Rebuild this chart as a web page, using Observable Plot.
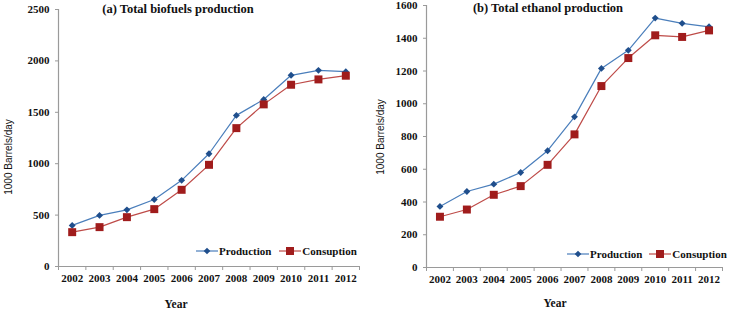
<!DOCTYPE html>
<html>
<head>
<meta charset="utf-8">
<script src="https://cdn.jsdelivr.net/npm/d3@7"></script>
<script src="https://cdn.jsdelivr.net/npm/@observablehq/plot@0.6"></script>
<style>
  html, body { margin: 0; padding: 0; background: #fff; }
  #wrap { position: relative; width: 729px; height: 309px; overflow: hidden; background: #fff; }
  .panel { position: absolute; top: 0; }
  .txt { position: absolute; font-family: "Liberation Serif", serif; font-weight: bold; color: #111; white-space: nowrap; }
  .ylab { position: absolute; font-family: "Liberation Sans", sans-serif; font-size: 10px; color: #111; white-space: nowrap; transform: translate(-50%, -50%) rotate(-90deg); }
  .legend { position: absolute; display: flex; align-items: center; font-family: "Liberation Serif", serif; font-weight: bold; font-size: 11px; color: #111; white-space: nowrap; }
  .legend svg { display: block; }
</style>
</head>
<body>
<div id="wrap"></div>
<script>
const years = [2002, 2003, 2004, 2005, 2006, 2007, 2008, 2009, 2010, 2011, 2012];
const bioProduction = [400, 497, 551, 652, 838, 1097, 1470, 1625, 1860, 1908, 1895];
const bioConsumption = [334, 383, 480, 558, 746, 989, 1346, 1577, 1768, 1820, 1856];
const ethProduction = [373, 464, 509, 580, 713, 920, 1216, 1326, 1523, 1491, 1470];
const ethConsumption = [310, 354, 444, 497, 627, 813, 1108, 1279, 1418, 1408, 1448];
const seriesNames = ["Production", "Consuption"];
const bioTicks = [0, 500, 1000, 1500, 2000, 2500];
const ethTicks = [0, 200, 400, 600, 800, 1000, 1200, 1400, 1600];

const lineColors = ["#4a7ebb", "#be4b48"];
const markColors = ["#1f4e8c", "#a01c1c"];

const rhombus = {
  draw(context, size) {
    const s = Math.sqrt(size / Math.PI) * 1.15;
    context.moveTo(0, -s);
    context.lineTo(s, 0);
    context.lineTo(0, s);
    context.lineTo(-s, 0);
    context.closePath();
  }
};

function chart({prod, cons, ticks, width, ml, mr, mt, mb}) {
  const data = years.flatMap((y, i) => [
    {year: y, value: prod[i], series: seriesNames[0]},
    {year: y, value: cons[i], series: seriesNames[1]}
  ]);
  const boundaries = d3.range(2001.5, 2013, 1);
  return Plot.plot({
    width, height: 309,
    marginLeft: ml, marginRight: mr, marginTop: mt, marginBottom: mb,
    style: {fontFamily: "Liberation Serif", fontWeight: "bold", fontSize: "11px", color: "#111", background: "transparent", overflow: "visible"},
    x: {domain: [2001.5, 2012.5]},
    y: {domain: [0, d3.max(ticks)]},
    marks: [
      Plot.ruleX([2001.5], {stroke: "#9a9a9a", strokeWidth: 1.2}),
      Plot.ruleY([0], {stroke: "#9a9a9a", strokeWidth: 1.2}),
      Plot.axisY({ticks, tickSize: 3, tickPadding: 6, stroke: "#9a9a9a", label: null, tickFormat: d => String(d)}),
      Plot.axisX({ticks: boundaries, tickSize: 4, stroke: "#9a9a9a", tickFormat: () => "", label: null}),
      Plot.axisX({ticks: years, tickSize: 0, tickPadding: 8, tickFormat: d => String(d), label: null}),
      Plot.line(data.filter(d => d.series === seriesNames[0]), {x: "year", y: "value", stroke: lineColors[0], strokeWidth: 1.2}),
      Plot.line(data.filter(d => d.series === seriesNames[1]), {x: "year", y: "value", stroke: lineColors[1], strokeWidth: 1.2}),
      Plot.dot(data.filter(d => d.series === seriesNames[0]), {x: "year", y: "value", symbol: rhombus, r: 3, fill: markColors[0]}),
      Plot.dot(data.filter(d => d.series === seriesNames[1]), {x: "year", y: "value", symbol: "square", r: 4.5, fill: markColors[1]})
    ]
  });
}

const wrap = document.getElementById("wrap");

function addPanel(left, node) {
  const d = document.createElement("div");
  d.className = "panel";
  d.style.left = left + "px";
  d.appendChild(node);
  wrap.appendChild(d);
}

addPanel(0, chart({prod: bioProduction, cons: bioConsumption, ticks: bioTicks, width: 365, ml: 58, mr: 6, mt: 9, mb: 43}));
addPanel(365, chart({prod: ethProduction, cons: ethConsumption, ticks: ethTicks, width: 364, ml: 61, mr: 7, mt: 5, mb: 42}));

function addText(cls, text, x, y, size, center) {
  const d = document.createElement("div");
  d.className = cls;
  d.textContent = text;
  d.style.left = x + "px";
  d.style.top = y + "px";
  if (size) d.style.fontSize = size + "px";
  if (center && cls === "txt") d.style.transform = "translate(-50%, -50%)";
  wrap.appendChild(d);
}

addText("txt", "(a) Total biofuels production", 178, 9, 12.5, true);
addText("txt", "(b) Total ethanol production", 548, 8, 12.5, true);
addText("txt", "Year", 176, 304, 11.5, true);
addText("txt", "Year", 555, 303, 11.5, true);
addText("ylab", "1000 Barrels/day", 8, 157);
addText("ylab", "1000 Barrels/day", 380, 137);

function legendSwatch(i) {
  const ns = "http://www.w3.org/2000/svg";
  const svg = document.createElementNS(ns, "svg");
  svg.setAttribute("width", 22); svg.setAttribute("height", 12);
  const line = document.createElementNS(ns, "line");
  line.setAttribute("x1", 0); line.setAttribute("x2", 22);
  line.setAttribute("y1", 6); line.setAttribute("y2", 6);
  line.setAttribute("stroke", lineColors[i]); line.setAttribute("stroke-width", 1.2);
  svg.appendChild(line);
  if (i === 0) {
    const p = document.createElementNS(ns, "path");
    p.setAttribute("d", "M11,2.7L14.3,6L11,9.3L7.7,6Z");
    p.setAttribute("fill", markColors[0]);
    svg.appendChild(p);
  } else {
    const r = document.createElementNS(ns, "rect");
    r.setAttribute("x", 7); r.setAttribute("y", 2); r.setAttribute("width", 8); r.setAttribute("height", 8);
    r.setAttribute("fill", markColors[1]);
    svg.appendChild(r);
  }
  return svg;
}

function addLegend(x, y, gap) {
  const d = document.createElement("div");
  d.className = "legend";
  d.style.left = x + "px";
  d.style.top = (y - 7) + "px";
  seriesNames.forEach((name, i) => {
    const sw = legendSwatch(i);
    sw.style.marginRight = "1px";
    if (i > 0) sw.style.marginLeft = gap + "px";
    d.appendChild(sw);
    const s = document.createElement("span");
    s.textContent = name;
    d.appendChild(s);
  });
  wrap.appendChild(d);
}

addLegend(196, 252, 8);
addLegend(567, 255, 7);
</script>
</body>
</html>
